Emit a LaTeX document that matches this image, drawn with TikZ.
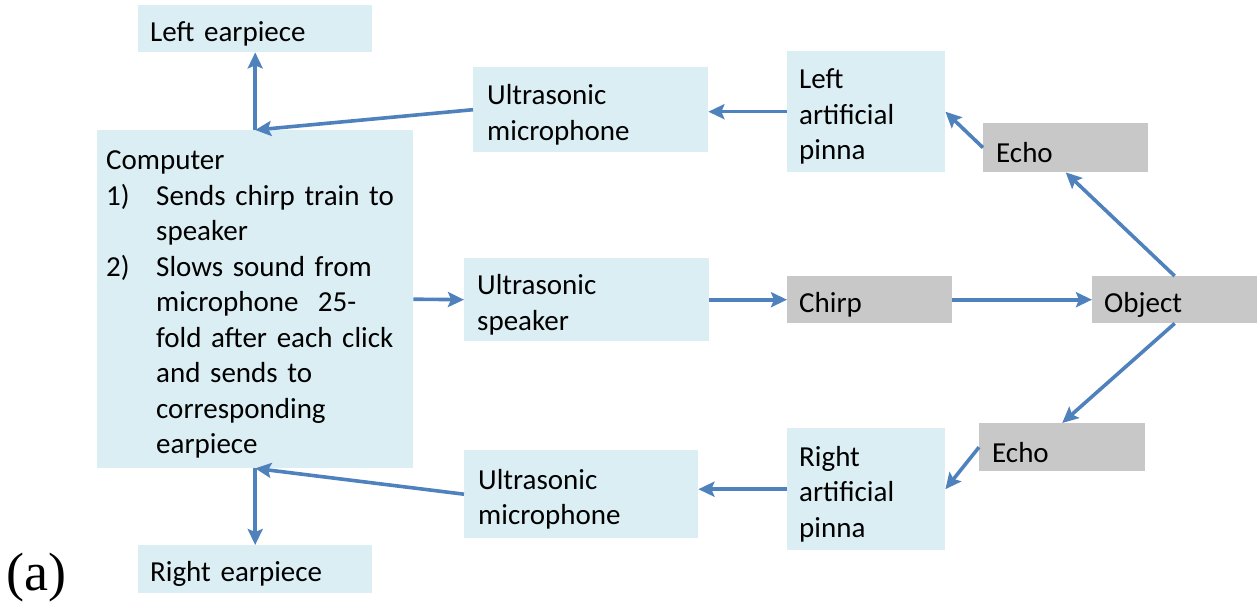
\documentclass[tikz,border=0pt]{standalone}
\usepackage{fontspec}
\setmainfont{Carlito}[WordSpace=0.85]
\newfontfamily\seriffont{Liberation Serif}
\usetikzlibrary{arrows.meta}
\definecolor{lblue}{RGB}{219,238,244}
\definecolor{gbox}{RGB}{200,200,200}
\definecolor{arrblue}{RGB}{79,129,189}
\tikzset{
  bx/.style={fill=lblue, draw=none, inner xsep=12pt, inner ysep=0pt, align=left, anchor=north west,
    font=\fontsize{29}{35.5}\selectfont, execute at begin node={\rule{0pt}{30pt}}},
  gx/.style={bx, fill=gbox},
  arr/.style={draw=arrblue, line width=3.6pt, -{Stealth[length=16pt,width=15pt,inset=3pt]}},
}
\begin{document}
\begin{tikzpicture}[x=1pt,y=-1pt]
\useasboundingbox (0,0) rectangle (1259,607);
\node[bx, text width=210pt, minimum height=47pt] (learp) at (138,5) {Left earpiece};
\node[bx, inner xsep=9pt, text width=298pt, minimum height=338pt] (comp) at (97,130) {Computer\\
\makebox[50pt][l]{1)}Sends chirp train to\\
\hspace*{50pt}speaker\\
\makebox[50pt][l]{2)}Slows sound from\\
\hspace*{50pt}microphone\ \ 25-\\
\hspace*{50pt}fold after each click\\
\hspace*{50pt}and sends to\\
\hspace*{50pt}corresponding\\
\hspace*{50pt}earpiece};
\node[bx, text width=210pt, minimum height=48pt] (rearp) at (138,545) {Right earpiece};
\node[bx, inner xsep=14pt, text width=207pt, minimum height=85pt] (mic1) at (473,67) {Ultrasonic\\microphone};
\node[bx, text width=134pt, minimum height=121pt] (lp) at (787,51) {Left\\artificial\\pinna};
\node[gx, inner xsep=13pt, text width=139pt, minimum height=49pt] (echo1) at (983,123) {Echo};
\node[bx, inner xsep=13pt, text width=219pt, minimum height=83pt] (spk) at (464,258) {Ultrasonic\\speaker};
\node[gx, text width=141pt, minimum height=47pt] (chirp) at (787,276) {Chirp};
\node[gx, text width=141pt, minimum height=47pt] (obj) at (1092,276) {Object};
\node[gx, inner xsep=13pt, text width=140pt, minimum height=48pt] (echo2) at (979,423) {Echo};
\node[bx, text width=134pt, minimum height=122pt] (rp) at (787,428) {Right\\artificial\\pinna};
\node[bx, inner xsep=14pt, text width=206pt, minimum height=88pt] (mic2) at (464,450) {Ultrasonic\\microphone};
\node[anchor=base west, inner sep=0pt, font=\seriffont\fontsize{54}{54}\selectfont] (lab) at (6,590) {(a)};
\draw[arr] (mic1.west) -- (comp.north);
\draw[arr] (comp.north) -- (learp.south);
\draw[arr] (mic2.west) -- (comp.south);
\draw[arr] (comp.south) -- (rearp.north);
\draw[arr] (lp.west) -- (lp.west -| mic1.east);
\draw[arr] (echo1.west) -- (lp.east);
\draw[arr] (obj.north) -- (echo1.south);
\draw[arr] (chirp.east) -- (obj.west);
\draw[arr] (spk.east) -- (chirp.west);
\draw[arr] (comp.east) -- (spk.west);
\draw[arr] (obj.south) -- (echo2.north);
\draw[arr] (echo2.west) -- (rp.east);
\draw[arr] (rp.west) -- (rp.west -| mic2.east);
\end{tikzpicture}
\end{document}
